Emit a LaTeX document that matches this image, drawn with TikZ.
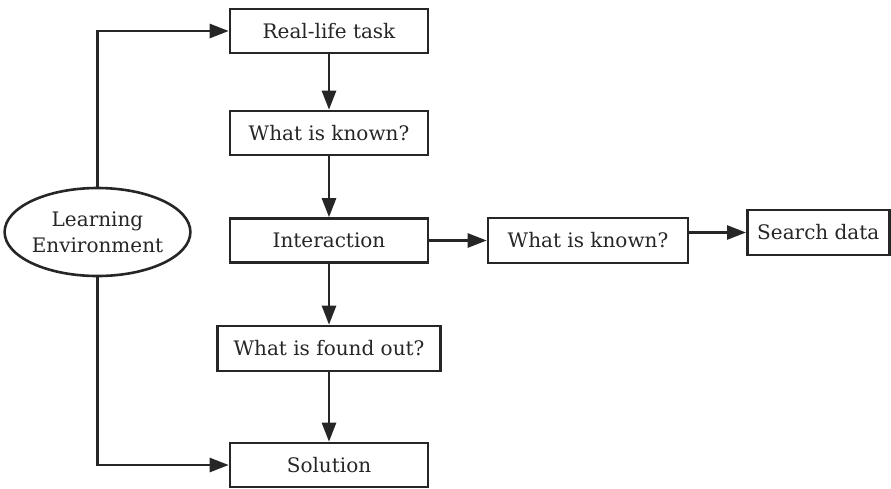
\documentclass[tikz,border=0pt]{standalone}
\usepackage{fontspec}
\setmainfont{DejaVu Serif}
\usetikzlibrary{arrows.meta,shapes.geometric}
\begin{document}
\begin{tikzpicture}[x=1pt,y=-1pt,
  box/.style={draw=black!85,line width=2.6pt,rectangle,inner sep=0pt,font=\fontsize{20}{24}\selectfont,text=black!85},
  arr/.style={draw=black!85,line width=2.6pt,-{Triangle[length=19pt,width=14pt]}}]
\useasboundingbox (0,0) rectangle (891,488);
\node[box,minimum width=198pt,minimum height=44pt] (task) at (329,31) {Real-life task};
\node[box,minimum width=198pt,minimum height=44pt] (known) at (329,133) {What is known?};
\node[box,minimum width=198pt,minimum height=44pt] (inter) at (329,240.5) {Interaction};
\node[box,minimum width=223pt,minimum height=45pt] (found) at (329,348.5) {What is found out?};
\node[box,minimum width=198pt,minimum height=44pt] (sol) at (329,465) {Solution};
\node[box,minimum width=200pt,minimum height=45pt] (known2) at (588,240.5) {What is known?};
\node[box,minimum width=142pt,minimum height=45pt,anchor=west] (search) at (746,232.5) {Search data};
\node[box,ellipse,minimum width=181pt,minimum height=88pt,align=center,font=\fontsize{20}{26}\selectfont] (env) at (97.5,232) {Learning\\Environment};
\draw[arr] (task) -- (known);
\draw[arr] (known) -- (inter);
\draw[arr] (inter) -- (found);
\draw[arr] (found) -- (sol);
\draw[arr] (inter.east) -- (known2.west);
\draw[arr] (known2.east |- search.west) -- (search.west);
\draw[arr] (env.north) |- (task.west);
\draw[arr] (env.south) |- (sol.west);
\end{tikzpicture}
\end{document}
